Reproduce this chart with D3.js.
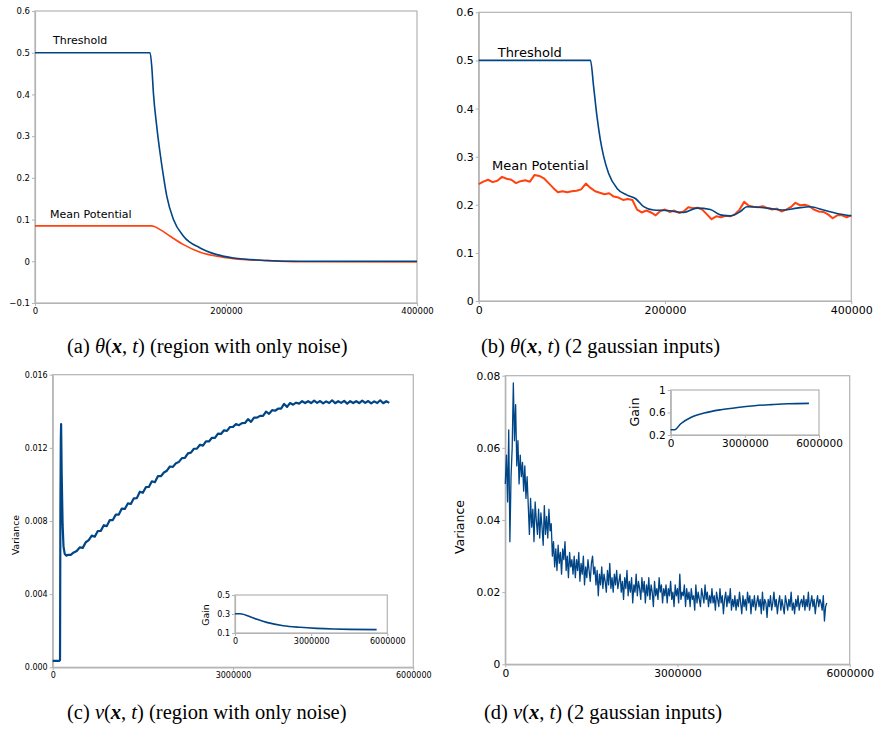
<!DOCTYPE html>
<html>
<head>
<meta charset="utf-8">
<script src="https://cdn.jsdelivr.net/npm/d3@7"></script>
<style>
  body { margin: 0; background: #fff; }
  svg { display: block; }
</style>
</head>
<body>
<svg id="fig" width="874" height="729"></svg>
<script>
// ---- data ----
// (a) region with only noise
var threshA = [[0,0.5],[120500,0.5],[122300,0.466],[124000,0.403],[127500,0.323],[131000,0.259],[134500,0.204],[138000,0.156],[145000,0.1],[155500,0.06],[172900,0.032],[190400,0.016],[207900,0.008],[242800,0.002],[277700,0],[400000,0]];
var meanA = [[0,0.085],[122300,0.085],[131000,0.076],[141500,0.06],[155500,0.04],[172900,0.0216],[190400,0.012],[207900,0.0064],[242800,0.0016],[277700,-0.001],[400000,-0.0016]];

// (b) 2 gaussian inputs
var threshB = [[0,0.5],[120000,0.5],[123400,0.445],[127000,0.383],[130600,0.335],[134200,0.3],[139500,0.265],[148500,0.234],[159200,0.22],[168200,0.213],[177100,0.196],[187800,0.189],[202100,0.188],[220000,0.184],[234300,0.193],[248700,0.19],[259400,0.179],[270100,0.177],[280900,0.186],[288000,0.196],[309500,0.193],[327400,0.189],[341700,0.193],[356000,0.196],[370300,0.189],[384600,0.182],[400000,0.177]];
var meanBTimes = d3.range(0, 400001, 5000);
var meanBValues = [0.243,0.248,0.252,0.247,0.25,0.258,0.254,0.252,0.245,0.249,0.251,0.248,0.262,0.26,0.255,0.245,0.235,0.226,0.228,0.226,0.228,0.229,0.232,0.244,0.235,0.228,0.225,0.222,0.224,0.217,0.215,0.21,0.212,0.21,0.19,0.184,0.188,0.184,0.178,0.187,0.19,0.185,0.188,0.183,0.186,0.195,0.193,0.194,0.19,0.18,0.17,0.176,0.174,0.177,0.176,0.18,0.19,0.206,0.198,0.196,0.195,0.197,0.193,0.19,0.192,0.186,0.19,0.195,0.204,0.199,0.2,0.197,0.19,0.186,0.185,0.18,0.172,0.178,0.178,0.174,0.178];

// (c) variance, region with only noise
var varCStart = [[0,0.00035],[110000,0.00035],[122000,0.0004],[128000,0.0085],[135000,0.0125],[140000,0.0133],[150000,0.0105],[165000,0.0078],[180000,0.0066],[200000,0.0062],[230000,0.0061]];
var varCTimes = d3.range(250000, 5600001, 50000);
var varCValues = [0.00615,
  0.00615,0.00628,0.00636,0.00656,0.00653,0.00684,0.00695,0.0072,0.00714,0.00745,
  0.00746,0.00777,0.00772,0.00805,0.00805,0.00835,0.00835,0.00868,0.00866,0.00896,
  0.00893,0.00924,0.00925,0.0096,0.00954,0.00985,0.00986,0.01017,0.01012,0.01045,
  0.01045,0.01065,0.01075,0.01098,0.01096,0.01116,0.01123,0.01144,0.01145,0.0117,
  0.01174,0.01195,0.01196,0.01217,0.01212,0.01235,0.01235,0.01255,0.01255,0.01278,
  0.01276,0.01296,0.01293,0.01314,0.01315,0.0133,0.01324,0.01335,0.01336,0.01357,
  0.01342,0.01365,0.01365,0.01375,0.01375,0.01398,0.01386,0.01406,0.01403,0.01414,
  0.01415,0.0144,0.01424,0.01445,0.01436,0.01447,0.01442,0.01455,0.01445,0.01455,
  0.01445,0.01458,0.01446,0.01456,0.01443,0.01454,0.01445,0.0146,0.01444,0.01455,
  0.01446,0.01457,0.01442,0.01455,0.01445,0.01455,0.01445,0.01458,0.01446,0.01456,
  0.01443,0.01454,0.01445,0.0146,0.01444,0.01455,0.01446];
var gainC = [[0,0.302],[197000,0.302],[722000,0.257],[1247000,0.212],[1904000,0.177],[2560000,0.16],[3217000,0.149],[3873000,0.142],[4530000,0.138],[5580000,0.135]];

// (d) variance, 2 gaussian inputs
var varDTimes = d3.range(0, 5600001, 20000);
var varDValues = [
  0.05,0.058,0.045,0.065,0.034,0.052,0.06,0.078,0.062,0.072,0.055,0.062,0.05,0.058,0.052,0.056,0.048,0.055,0.046,0.052,
  0.044,0.036,0.046,0.038,0.043,0.034,0.045,0.04,0.036,0.043,0.035,0.042,0.038,0.033,0.044,0.036,0.041,0.035,0.043,0.037,
  0.039,0.03,0.034,0.027,0.032,0.026,0.033,0.028,0.031,0.025,0.032,0.029,0.034,0.026,0.03,0.024,0.031,0.027,0.029,0.025,
  0.03,0.024,0.029,0.026,0.031,0.023,0.028,0.025,0.03,0.022,0.027,0.024,0.029,0.026,0.023,0.028,0.03,0.025,0.027,0.022,
  0.026,0.019,0.025,0.022,0.027,0.021,0.025,0.023,0.02,0.026,0.022,0.028,0.021,0.024,0.02,0.025,0.022,0.026,0.021,0.023,
  0.025,0.02,0.023,0.018,0.024,0.021,0.026,0.019,0.023,0.02,0.024,0.017,0.022,0.02,0.025,0.019,0.023,0.021,0.018,0.024,
  0.02,0.023,0.017,0.022,0.019,0.024,0.018,0.022,0.02,0.016,0.023,0.019,0.021,0.018,0.024,0.02,0.022,0.017,0.021,0.019,
  0.022,0.017,0.021,0.019,0.023,0.018,0.02,0.016,0.022,0.019,0.021,0.017,0.025,0.018,0.02,0.019,0.022,0.016,0.021,0.018,
  0.02,0.016,0.021,0.018,0.019,0.015,0.022,0.017,0.02,0.018,0.016,0.021,0.019,0.017,0.022,0.018,0.02,0.016,0.019,0.017,
  0.021,0.017,0.019,0.015,0.02,0.018,0.016,0.021,0.017,0.019,0.014,0.018,0.02,0.016,0.019,0.017,0.021,0.015,0.018,0.016,
  0.019,0.015,0.018,0.016,0.02,0.017,0.014,0.019,0.016,0.018,0.015,0.02,0.017,0.019,0.014,0.018,0.016,0.019,0.015,0.017,
  0.019,0.016,0.018,0.014,0.02,0.015,0.018,0.017,0.013,0.018,0.016,0.019,0.015,0.017,0.02,0.016,0.018,0.014,0.017,0.019,
  0.015,0.018,0.016,0.014,0.019,0.017,0.015,0.018,0.016,0.02,0.015,0.017,0.014,0.018,0.016,0.019,0.015,0.017,0.018,0.016,
  0.019,0.015,0.018,0.016,0.02,0.015,0.017,0.019,0.016,0.018,0.014,0.017,0.019,0.016,0.018,0.017,0.015,0.019,0.012,0.016,
  0.017];
var gainD = [[0,0.294],[162000,0.294],[406000,0.4],[813000,0.51],[1354000,0.59],[2032000,0.65],[2709000,0.69],[3386000,0.72],[4063000,0.74],[4740000,0.756],[5593000,0.7625]];

var blue = '#004586';
var orange = '#ff420e';
var grey = '#b3b3b3';

var svg = d3.select('#fig');

function panel(cfg) {
  var x = d3.scaleLinear().domain(cfg.xDomain).range([cfg.left, cfg.right]);
  var y = d3.scaleLinear().domain(cfg.yDomain).range([cfg.bottom, cfg.top]);
  var g = svg.append('g');

  g.append('rect')
    .attr('x', cfg.left).attr('y', cfg.top)
    .attr('width', cfg.right - cfg.left).attr('height', cfg.bottom - cfg.top)
    .attr('fill', '#fff').attr('stroke', grey).attr('stroke-width', 1.2);

  var yAxis = d3.axisLeft(y).tickValues(cfg.yTicks).tickSize(3).tickSizeOuter(0)
    .tickPadding(2).tickFormat(cfg.yFormat);
  var xAxis = d3.axisBottom(x).tickValues(cfg.xTicks).tickSize(3).tickSizeOuter(0)
    .tickPadding(2).tickFormat(d3.format('d'));

  [g.append('g').attr('transform', 'translate(' + cfg.left + ',0)').call(yAxis),
   g.append('g').attr('transform', 'translate(0,' + cfg.bottom + ')').call(xAxis)]
    .forEach(function(a) {
      a.select('.domain').attr('stroke', grey).attr('stroke-width', 1.2);
      a.selectAll('.tick line').attr('stroke', grey);
      a.selectAll('.tick text').attr('fill', '#000')
        .style('font-family', 'DejaVu Sans').style('font-size', cfg.fontSize + 'px');
    });

  (cfg.series || []).forEach(function(s) {
    var line = d3.line()
      .x(function(d) { return x(d[0]); })
      .y(function(d) { return y(d[1]); });
    if (s.smooth) line.curve(d3.curveMonotoneX);
    g.append('path').datum(s.data)
      .attr('d', line)
      .attr('fill', 'none')
      .attr('stroke', s.color)
      .attr('stroke-width', s.width)
      .attr('stroke-linejoin', 'round');
  });

  if (cfg.yLabel) {
    g.append('text')
      .attr('transform', 'translate(' + cfg.yLabel.x + ',' + cfg.yLabel.y + ') rotate(-90)')
      .attr('text-anchor', 'middle')
      .attr('dy', '0.35em')
      .style('font-family', 'DejaVu Sans').style('font-size', cfg.yLabel.size + 'px')
      .text(cfg.yLabel.text);
  }
}

function label(txt, x, y, size) {
  svg.append('text').attr('x', x).attr('y', y)
    .style('font-family', 'DejaVu Sans').style('font-size', size + 'px')
    .text(txt);
}

function zip(xs, ys) {
  return xs.map(function(v, i) { return [v, ys[i]]; });
}

var fmt1 = d3.format('.1f');
function fmtA(v) { return v === 0 ? '0' : fmt1(v); }

// (a)
panel({
  left: 35, right: 417, top: 11, bottom: 303,
  xDomain: [0, 400000], yDomain: [-0.1, 0.6],
  xTicks: [0, 200000, 400000], yTicks: [-0.1, 0, 0.1, 0.2, 0.3, 0.4, 0.5, 0.6],
  yFormat: fmtA, fontSize: 8.5,
  series: [
    { data: meanA, color: orange, width: 1.6, smooth: true },
    { data: threshA, color: blue, width: 1.6, smooth: true }
  ]
});
label('Threshold', 53, 44, 11);
label('Mean Potential', 50, 218, 11);

// (b)
panel({
  left: 478.7, right: 851.3, top: 12.3, bottom: 301,
  xDomain: [0, 400000], yDomain: [0, 0.6],
  xTicks: [0, 200000, 400000], yTicks: [0, 0.1, 0.2, 0.3, 0.4, 0.5, 0.6],
  yFormat: fmtA, fontSize: 11,
  series: [
    { data: zip(meanBTimes, meanBValues), color: orange, width: 2 },
    { data: threshB, color: blue, width: 1.6, smooth: true }
  ]
});
label('Threshold', 497.7, 56.5, 13);
label('Mean Potential', 492, 170, 13);

// (c)
panel({
  left: 52.7, right: 413.3, top: 374.7, bottom: 667.3,
  xDomain: [0, 6000000], yDomain: [0, 0.016],
  xTicks: [0, 3000000, 6000000], yTicks: [0, 0.004, 0.008, 0.012, 0.016],
  yFormat: d3.format('.3f'), fontSize: 8,
  series: [{ data: varCStart.concat(zip(varCTimes, varCValues)), color: blue, width: 2.2 }],
  yLabel: { text: 'Variance', x: 15.7, y: 535, size: 9.3 }
});
panel({
  left: 235, right: 387.3, top: 595, bottom: 633,
  xDomain: [0, 6000000], yDomain: [0.1, 0.5],
  xTicks: [0, 3000000, 6000000], yTicks: [0.1, 0.3, 0.5],
  yFormat: fmt1, fontSize: 8,
  series: [{ data: gainC, color: blue, width: 1.6, smooth: true }],
  yLabel: { text: 'Gain', x: 205.7, y: 615, size: 9.4 }
});

// (d)
panel({
  left: 505.3, right: 849.7, top: 375.7, bottom: 664.3,
  xDomain: [0, 6000000], yDomain: [0, 0.08],
  xTicks: [0, 3000000, 6000000], yTicks: [0, 0.02, 0.04, 0.06, 0.08],
  yFormat: function(v) { return v === 0 ? '0' : d3.format('.2f')(v); }, fontSize: 10.7,
  series: [{ data: zip(varDTimes, varDValues), color: blue, width: 1.3 }],
  yLabel: { text: 'Variance', x: 459.3, y: 527, size: 12.5 }
});
panel({
  left: 670.7, right: 819, top: 390, bottom: 435,
  xDomain: [0, 6000000], yDomain: [0.2, 1],
  xTicks: [0, 3000000, 6000000], yTicks: [0.2, 0.6, 1],
  yFormat: function(v) { return v === 1 ? '1' : fmt1(v); }, fontSize: 10.5,
  series: [{ data: gainD, color: blue, width: 1.6, smooth: true }],
  yLabel: { text: 'Gain', x: 635, y: 412, size: 12.6 }
});

// captions
var captions = [
  { tag: '(a) ', sym: 'θ', rest: ' (region with only noise)', x: 67, y: 353 },
  { tag: '(b) ', sym: 'θ', rest: ' (2 gaussian inputs)', x: 481, y: 353 },
  { tag: '(c) ', sym: 'ν', rest: ' (region with only noise)', x: 67, y: 719 },
  { tag: '(d) ', sym: 'ν', rest: ' (2 gaussian inputs)', x: 484, y: 719 }
];
captions.forEach(function(c) {
  var t = svg.append('text').attr('x', c.x).attr('y', c.y)
    .style('font-family', 'Liberation Serif').style('font-size', '20.5px')
    .attr('xml:space', 'preserve');
  t.append('tspan').text(c.tag);
  t.append('tspan').style('font-style', 'italic').text(c.sym);
  t.append('tspan').text('(');
  t.append('tspan').style('font-style', 'italic').style('font-weight', 'bold').text('x');
  t.append('tspan').text(', ');
  t.append('tspan').style('font-style', 'italic').text('t');
  t.append('tspan').text(')' + c.rest);
});
</script>
</body>
</html>
